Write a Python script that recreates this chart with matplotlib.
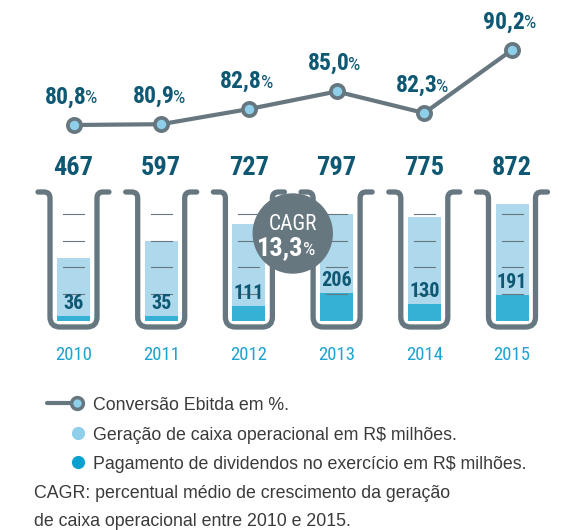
import numpy as np
import matplotlib
matplotlib.use("Agg")
import matplotlib.pyplot as plt
from matplotlib.path import Path
from matplotlib.patches import PathPatch, Circle
from matplotlib import font_manager

years = ["2010", "2011", "2012", "2013", "2014", "2015"]
conversao = [80.8, 80.9, 82.8, 85.0, 82.3, 90.2]      # Conversão Ebitda em %
geracao = [467, 597, 727, 797, 775, 872]               # Geração de caixa operacional
dividendos = [36, 35, 111, 206, 130, 191]              # Pagamento de dividendos
cagr_label = "13,3"

# colours
GRAY = "#667780"
TEAL = "#0f5873"
BLUE = "#1fa3d1"
LIGHT = "#aed9ec"
DARK = "#35b1d5"
DOT = "#8ecfea"
TXT = "#3a3a3a"


def pick(names):
    for n in names:
        try:
            font_manager.findfont(n, fallback_to_default=False)
            return n
        except Exception:
            pass
    return "DejaVu Sans"


NARROW = pick(["Liberation Sans Narrow", "Roboto Condensed", "DejaVu Sans"])
SANS = pick(["Liberation Sans", "DejaVu Sans"])

W, H = 583, 530
fig = plt.figure(figsize=(W / 100, H / 100), dpi=100)

# layout in pixels
x0, dx = 73.5, 87.7          # centre of first tube, spacing
base_px, vscale = 321, 0.134  # pixel of value 0, px per R$ million
p_ref, p_px, pscale = 80.8, 125, 7.98  # percent axis

idx = np.arange(len(years))
xlim = (-x0 / dx, (W - x0) / dx)

# value axes for tube fills
axv = fig.add_axes([0, 0, 1, 1])
axv.set_xlim(*xlim)
axv.set_ylim(-(H - base_px) / vscale, base_px / vscale)
axv.axis("off")

# pixel axes for decorations / text
axp = fig.add_axes([0, 0, 1, 1])
axp.set_xlim(0, W)
axp.set_ylim(H, 0)
axp.axis("off")
axp.patch.set_alpha(0)

# percent axes for the line
axl = fig.add_axes([0, 0, 1, 1])
axl.set_xlim(*xlim)
axl.set_ylim(p_ref - (H - p_px) / pscale, p_ref + p_px / pscale)
axl.axis("off")
axl.patch.set_alpha(0)

# fills
bw = 33 / dx
axv.bar(idx, geracao, width=bw, color=LIGHT, zorder=1)
axv.bar(idx, dividendos, width=bw, color=DARK, zorder=2)

# scale marks inside tubes
for i in idx:
    for lvl in [200, 400, 600, 800]:
        axv.plot([i - 10.5 / dx, i + 10.5 / dx], [lvl, lvl], color=GRAY, lw=0.8, zorder=3)

# inner labels
for i, d in zip(idx, dividendos):
    axv.annotate(str(d), (i, d), xytext=(0, 5), textcoords="offset points",
                 ha="center", va="baseline", fontsize=14.5, fontweight="bold",
                 color=TEAL, family=NARROW, zorder=4)


# tube outlines (pixel coords)
def tube(cx, top=192, bot=327, hw=23.5, lip=12, r=10, rl=6):
    verts = [
        (cx - hw - lip, top), (cx - hw - rl, top),
        (cx - hw, top), (cx - hw, top + rl),
        (cx - hw, bot - r),
        (cx - hw, bot), (cx - hw + r, bot),
        (cx + hw - r, bot),
        (cx + hw, bot), (cx + hw, bot - r),
        (cx + hw, top + rl),
        (cx + hw, top), (cx + hw + rl, top),
        (cx + hw + lip, top),
    ]
    codes = [Path.MOVETO, Path.LINETO, Path.CURVE3, Path.CURVE3, Path.LINETO,
             Path.CURVE3, Path.CURVE3, Path.LINETO, Path.CURVE3, Path.CURVE3,
             Path.LINETO, Path.CURVE3, Path.CURVE3, Path.LINETO]
    return PathPatch(Path(verts, codes), fill=False, edgecolor=GRAY, lw=3.8,
                     capstyle="round", joinstyle="round")


for i in idx:
    cx = x0 + dx * i
    axp.add_patch(tube(cx))
    axp.text(cx, 175, str(geracao[i]), ha="center", va="baseline", fontsize=19,
             fontweight="bold", color=TEAL, family=NARROW)
    axp.text(cx, 360, years[i], ha="center", va="baseline", fontsize=13.5,
             color=BLUE, family=NARROW)

# CAGR bubble
ccx = x0 + dx * 2.5
axp.add_patch(Circle((ccx, 233.5), 39.5, color=GRAY, zorder=5))
axp.text(ccx, 229.5, "CAGR", ha="center", va="baseline", fontsize=15.5,
         color="white", family=NARROW, zorder=6)
axp.text(ccx + 11, 255, cagr_label, ha="right", va="baseline", fontsize=19,
         fontweight="bold", color="white", family=NARROW, zorder=6)
axp.text(ccx + 10, 255, "%", ha="left", va="baseline", fontsize=14,
         color="white", family=NARROW, zorder=6)

# conversion line
axl.plot(idx, conversao, color=GRAY, lw=3, marker="o", ms=9.5, mfc=DOT,
         mec=GRAY, mew=2.7, solid_capstyle="round", zorder=3)
for i, v in zip(idx, conversao):
    lab = f"{v:.1f}".replace(".", ",")
    axl.annotate(lab, (i, v), xytext=(9.5, 15.5), textcoords="offset points",
                 ha="right", va="baseline", fontsize=17, fontweight="bold",
                 color=TEAL, family=NARROW)
    axl.annotate("%", (i, v), xytext=(8.5, 15.5), textcoords="offset points",
                 ha="left", va="baseline", fontsize=14, color=TEAL, family=NARROW)

# legend
axp.plot([47, 73], [403, 403], color=GRAY, lw=3, solid_capstyle="round")
axp.plot([77], [403], marker="o", ms=8.5, mfc=DOT, mec=GRAY, mew=2.5)
axp.plot([78], [433], marker="o", ms=9.5, color=DOT, mew=0)
axp.plot([78], [462], marker="o", ms=9.5, color="#0aa0cf", mew=0)
legend_rows = ["Conversão Ebitda em %.",
               "Geração de caixa operacional em R$ milhões.",
               "Pagamento de dividendos no exercício em R$ milhões."]
for k, t in enumerate(legend_rows):
    axp.text(93, 410 + 29.5 * k, t, ha="left", va="baseline", fontsize=12.8,
             color=TXT, family=SANS)
axp.text(34, 498, "CAGR: percentual médio de crescimento da geração",
         ha="left", va="baseline", fontsize=12.8, color=TXT, family=SANS)
axp.text(34, 526, "de caixa operacional entre 2010 e 2015.",
         ha="left", va="baseline", fontsize=12.8, color=TXT, family=SANS)

fig.savefig("out.png", dpi=100)
